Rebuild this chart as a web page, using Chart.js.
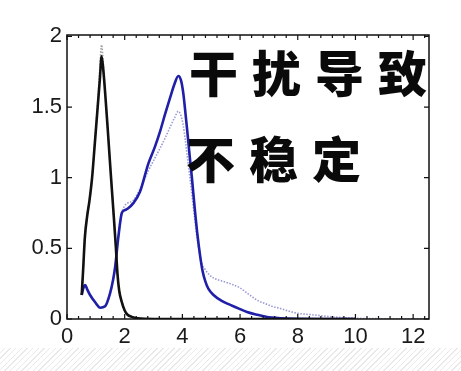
<!DOCTYPE html>
<html>
<head>
<meta charset="utf-8">
<script src="https://cdn.jsdelivr.net/npm/chart.js@4"></script>
<style>
  html, body { margin: 0; padding: 0; background: #ffffff; }
  #wrap { position: relative; width: 461px; height: 371px; overflow: hidden; background: #fff; }
  #hatch { position: absolute; left: 0; top: 348px; width: 461px; height: 23px;
    background: repeating-linear-gradient(135deg, #ffffff 0px, #ffffff 3px, #e9e9e9 3px, #e9e9e9 4px); }
  #c { position: absolute; left: 0; top: 0; }
</style>
</head>
<body>
<div id="wrap">
  <div id="hatch"></div>
  <canvas id="c" width="461" height="371"></canvas>
</div>
<script>
// ---- data ----
const xTickLabels = [0, 2, 4, 6, 8, 10, 12];
const yTickLabels = [0, 0.5, 1, 1.5, 2];
const annotationLines = ["干扰导致", "不稳定"];

const blackX = [0.51,0.56,0.62,0.70,0.78,0.87,0.96,1.06,1.14,1.20,1.26,1.33,1.41,1.52,1.61,1.69,1.75,1.81,1.90,2.0,2.1,2.25,2.45,2.7,3.2,10];
const blackY = [0.17,0.35,0.58,0.73,0.84,1.0,1.23,1.49,1.70,1.86,1.76,1.58,1.35,1.02,0.76,0.52,0.32,0.20,0.12,0.06,0.03,0.015,0.005,0.001,0,0];

const blackDotX = [0.51,0.56,0.62,0.70,0.78,0.87,0.96,1.06,1.14,1.20,1.26,1.33,1.41,1.52,1.61,1.69,1.75,1.81,1.90,2.0,2.1,2.25,2.45,2.7,3.2,12.5];
const blackDotY = [0.17,0.35,0.58,0.73,0.84,1.0,1.25,1.52,1.78,1.94,1.80,1.58,1.35,1.02,0.76,0.52,0.32,0.20,0.12,0.06,0.03,0.015,0.005,0.001,0,0];

const blueX = [0.51,0.57,0.63,0.70,0.80,0.97,1.15,1.32,1.49,1.60,1.67,1.78,1.90,2.0,2.1,2.3,2.53,2.82,3.05,3.23,3.40,3.58,3.72,3.86,3.95,4.03,4.10,4.17,4.25,4.33,4.42,4.52,4.62,4.70,4.79,4.9,5.08,5.35,5.66,6.0,6.24,6.6,6.82,7.1,7.40,8.0,9.0,10.0];
const blueY = [0.17,0.22,0.24,0.21,0.17,0.12,0.08,0.09,0.18,0.28,0.37,0.58,0.75,0.77,0.78,0.82,0.90,1.10,1.22,1.33,1.45,1.57,1.66,1.72,1.69,1.60,1.47,1.33,1.16,1.0,0.80,0.60,0.44,0.34,0.27,0.215,0.17,0.13,0.10,0.07,0.05,0.03,0.02,0.01,0.005,0.001,0,0];

const blueDotX = [0.51,0.57,0.63,0.70,0.80,0.97,1.15,1.32,1.49,1.60,1.67,1.78,1.90,2.0,2.1,2.3,2.53,2.82,3.05,3.23,3.40,3.58,3.72,3.86,3.95,4.03,4.10,4.17,4.25,4.33,4.42,4.52,4.62,4.70,4.79,4.9,5.08,5.35,5.66,6.0,6.2,6.4,6.62,6.86,7.1,7.4,7.7,8.0,8.5,9.15,10.06,11,12.5];
const blueDotY = [0.17,0.22,0.24,0.21,0.17,0.12,0.08,0.09,0.18,0.28,0.37,0.58,0.75,0.80,0.82,0.84,0.92,1.05,1.14,1.21,1.28,1.36,1.42,1.47,1.44,1.37,1.27,1.15,1.02,0.88,0.72,0.56,0.44,0.38,0.35,0.32,0.29,0.27,0.25,0.22,0.19,0.16,0.13,0.11,0.09,0.075,0.055,0.04,0.03,0.016,0.005,0.002,0.001];

function pts(xs, ys) { return xs.map((x, i) => ({ x: x, y: ys[i] })); }

// ---- plugins: frame, inward ticks, annotation text ----
const framePlugin = {
  id: 'frameTicks',
  afterDatasetsDraw(chart) {
    const { ctx, chartArea: a, scales: { x, y } } = chart;
    ctx.save();
    ctx.strokeStyle = '#111';
    ctx.lineWidth = 1.5;
    ctx.strokeRect(a.left, a.top, a.right - a.left, a.bottom - a.top);
    ctx.lineWidth = 1.2;
    ctx.beginPath();
    // x minor ticks every 0.4, major every 2
    for (let k = 0; k * 0.4 <= x.max + 1e-9; k++) {
      const v = k * 0.4;
      const px = x.getPixelForValue(v);
      const len = 3;
      ctx.moveTo(px, a.bottom); ctx.lineTo(px, a.bottom - len);
      ctx.moveTo(px, a.top); ctx.lineTo(px, a.top + len);
    }
    xTickLabels.forEach(v => {
      const px = x.getPixelForValue(v);
      ctx.moveTo(px, a.bottom); ctx.lineTo(px, a.bottom - 5);
      ctx.moveTo(px, a.top); ctx.lineTo(px, a.top + 5);
    });
    yTickLabels.forEach(v => {
      const py = y.getPixelForValue(v);
      ctx.moveTo(a.left, py); ctx.lineTo(a.left + 5, py);
      ctx.moveTo(a.right, py); ctx.lineTo(a.right - 5, py);
    });
    ctx.stroke();

    // annotation text
    ctx.fillStyle = '#0a0a0a';
    ctx.font = '900 49px "Noto Sans CJK SC"';
    ctx.textBaseline = 'middle';
    ctx.textAlign = 'left';
    try { ctx.letterSpacing = '14px'; } catch (e) {}
    ctx.fillText(annotationLines[0], 189, 73);
    ctx.fillText(annotationLines[1], 186, 159);
    ctx.restore();
  }
};

const tickFont = { family: '"Liberation Sans", Arial, sans-serif', size: 22 };

new Chart(document.getElementById('c'), {
  type: 'line',
  data: {
    datasets: [
      { label: 'black', data: pts(blackX, blackY), borderColor: '#111111', borderWidth: 2.6, order: 0 },
      { label: 'blue', data: pts(blueX, blueY), borderColor: '#1f1fa8', borderWidth: 2.6, order: 1 },
      { label: 'black ref', data: pts(blackDotX, blackDotY), borderColor: '#a0a0a0', borderWidth: 1.6, borderDash: [1.5, 1.5], order: 2 },
      { label: 'blue ref', data: pts(blueDotX, blueDotY), borderColor: '#9a9ad6', borderWidth: 1.6, borderDash: [1.5, 1.5], order: 3 }
    ]
  },
  options: {
    responsive: false,
    animation: false,
    layout: { padding: { top: 35, right: 32, left: 0, bottom: 0 } },
    elements: { point: { radius: 0 }, line: { cubicInterpolationMode: 'monotone', fill: false } },
    plugins: { legend: { display: false }, tooltip: { enabled: false } },
    scales: {
      x: {
        type: 'linear', min: 0, max: 12.55,
        afterBuildTicks: s => { s.ticks = xTickLabels.map(v => ({ value: v })); },
        afterFit: s => { s.height = 52; },
        grid: { display: false, drawTicks: false },
        border: { display: false },
        ticks: { color: '#1a1a1a', padding: 5, font: tickFont, maxRotation: 0, autoSkip: false,
                 callback: v => String(v) }
      },
      y: {
        type: 'linear', min: 0, max: 2.01,
        afterBuildTicks: s => { s.ticks = yTickLabels.map(v => ({ value: v })); },
        afterFit: s => { s.width = 67; },
        grid: { display: false, drawTicks: false },
        border: { display: false },
        ticks: { color: '#1a1a1a', padding: 5, font: tickFont, autoSkip: false,
                 callback: v => String(v) }
      }
    }
  },
  plugins: [framePlugin]
});
</script>
</body>
</html>
